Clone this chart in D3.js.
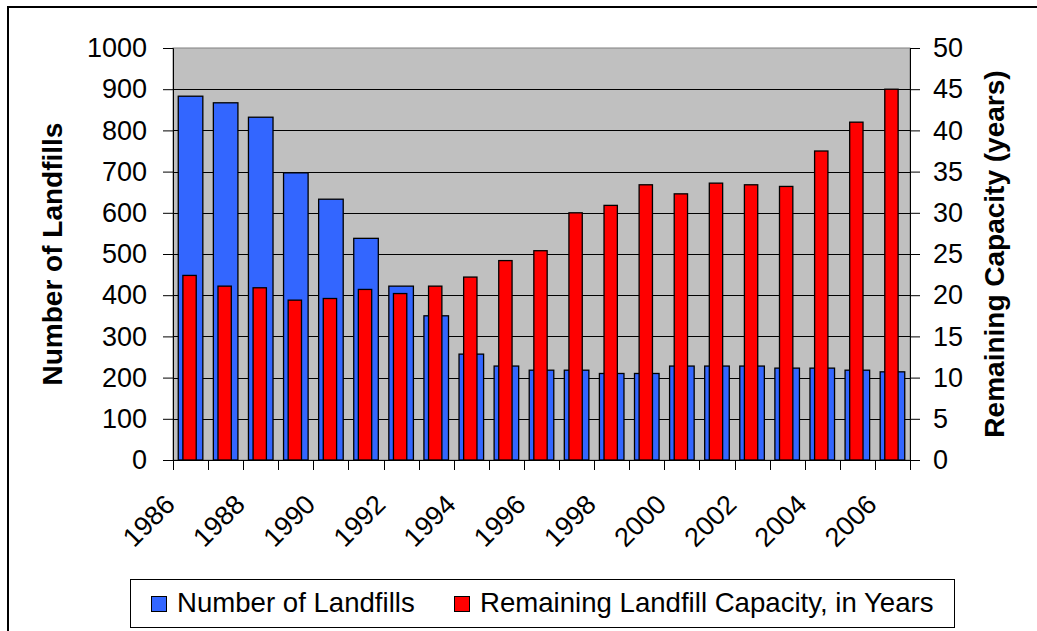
<!DOCTYPE html>
<html>
<head>
  <meta charset="utf-8">
  <script src="https://d3js.org/d3.v7.min.js"></script>
  <style>
    body { margin: 0; background: #fff; }
    svg text { font-family: "Liberation Sans", Arial, sans-serif; fill: #000; }
  </style>
</head>
<body>
<svg width="1037" height="631"></svg>
<script>
var years = ["1986","1987","1988","1989","1990","1991","1992","1993","1994","1995","1996",
             "1997","1998","1999","2000","2001","2002","2003","2004","2005","2006"];
var landfills = [883, 867, 832, 697, 633, 538, 422, 350, 257, 228, 218,
                 218, 210, 210, 228, 228, 228, 223, 223, 218, 214];
var capacity = [22.4, 21.1, 20.9, 19.4, 19.6, 20.7, 20.2, 21.1, 22.2, 24.2, 25.4,
                30.0, 30.9, 33.4, 32.3, 33.6, 33.4, 33.2, 37.5, 41.0, 45.0];
var leftTicks = [0, 100, 200, 300, 400, 500, 600, 700, 800, 900, 1000];
var rightTicks = [0, 5, 10, 15, 20, 25, 30, 35, 40, 45, 50];
var labelYears = ["1986","1988","1990","1992","1994","1996","1998","2000","2002","2004","2006"];

var svg = d3.select("svg"),
    plotLeft = 173, plotRight = 910, plotTop = 48, plotBottom = 460;

// outer frame
svg.append("rect")
    .attr("x", 8).attr("y", 7)
    .attr("width", 1040).attr("height", 640)
    .attr("fill", "#fff")
    .attr("stroke", "#000")
    .attr("stroke-width", 2);

var x = d3.scaleBand().domain(years).range([plotLeft, plotRight]).paddingInner(0).paddingOuter(0);
var y = d3.scaleLinear().domain([0, 1000]).range([plotBottom, plotTop]);
var y2 = d3.scaleLinear().domain([0, 50]).range([plotBottom, plotTop]);

// plot area
svg.append("rect")
    .attr("x", plotLeft).attr("y", plotTop)
    .attr("width", plotRight - plotLeft).attr("height", plotBottom - plotTop)
    .attr("fill", "#c0c0c0")
    .attr("stroke", "#808080");

svg.append("g")
  .selectAll("line")
  .data(leftTicks.slice(1, -1))
  .enter().append("line")
    .attr("x1", plotLeft).attr("x2", plotRight)
    .attr("y1", function(d) { return Math.round(y(d)) + 0.5; })
    .attr("y2", function(d) { return Math.round(y(d)) + 0.5; })
    .attr("stroke", "#000");

var bw = x.bandwidth();

svg.append("g")
  .selectAll("rect")
  .data(years)
  .enter().append("rect")
    .attr("x", function(d) { return x(d) + bw * 0.15; })
    .attr("y", function(d, i) { return y(landfills[i]); })
    .attr("width", bw * 0.7)
    .attr("height", function(d, i) { return y(0) - y(landfills[i]); })
    .attr("fill", "#3366ff")
    .attr("stroke", "#000")
    .attr("stroke-width", 1.3);

svg.append("g")
  .selectAll("rect")
  .data(years)
  .enter().append("rect")
    .attr("x", function(d) { return x(d) + bw * 0.31 - 1; })
    .attr("y", function(d, i) { return y2(capacity[i]); })
    .attr("width", bw * 0.38)
    .attr("height", function(d, i) { return y2(0) - y2(capacity[i]); })
    .attr("fill", "#ff0000")
    .attr("stroke", "#000")
    .attr("stroke-width", 1.3);

// left axis
var axL = svg.append("g").attr("transform", "translate(" + plotLeft + ",0)")
    .call(d3.axisLeft(y).tickValues(leftTicks).tickFormat(d3.format("d")).tickSize(10).tickPadding(16));
axL.selectAll("text").style("font-size", "27px");

// right axis
var axR = svg.append("g").attr("transform", "translate(" + plotRight + ",0)")
    .call(d3.axisRight(y2).tickValues(rightTicks).tickFormat(d3.format("d")).tickSize(10).tickPadding(13));
axR.selectAll("text").style("font-size", "27px");

// bottom axis: ticks on category boundaries
var bounds = years.map(function(d) { return x(d); }).concat([plotRight]);
svg.append("line")
    .attr("x1", plotLeft).attr("x2", plotRight)
    .attr("y1", plotBottom + 0.5).attr("y2", plotBottom + 0.5)
    .attr("stroke", "#000");
svg.append("g")
  .selectAll("line")
  .data(bounds)
  .enter().append("line")
    .attr("x1", function(d) { return Math.round(d) + 0.5; })
    .attr("x2", function(d) { return Math.round(d) + 0.5; })
    .attr("y1", plotBottom).attr("y2", plotBottom + 10)
    .attr("stroke", "#000");

svg.append("g")
  .selectAll("text")
  .data(labelYears)
  .enter().append("text")
    .attr("transform", function(d) {
      return "translate(" + (x(d) + bw / 2 - 14) + "," + (plotBottom + 46) + ")rotate(-45)";
    })
    .attr("text-anchor", "end")
    .style("font-size", "27px")
    .text(function(d) { return d; });

// axis titles
svg.append("text")
    .attr("transform", "translate(62," + (plotTop + plotBottom) / 2 + ")rotate(-90)")
    .attr("text-anchor", "middle")
    .style("font-size", "28px")
    .style("font-weight", "bold")
    .text("Number of Landfills");

svg.append("text")
    .attr("transform", "translate(1004," + (plotTop + plotBottom) / 2 + ")rotate(-90)")
    .attr("text-anchor", "middle")
    .style("font-size", "28px")
    .style("font-weight", "bold")
    .text("Remaining Capacity (years)");

// legend
var legend = svg.append("g");
legend.append("rect")
    .attr("x", 130.5).attr("y", 579.5)
    .attr("width", 824).attr("height", 48)
    .attr("fill", "#fff")
    .attr("stroke", "#000");

var items = [
  {name: "Number of Landfills", color: "#3366ff", x: 151},
  {name: "Remaining Landfill Capacity, in Years", color: "#ff0000", x: 454}
];
var li = legend.selectAll("g.item").data(items).enter().append("g")
    .attr("transform", function(d) { return "translate(" + d.x + ",0)"; });
li.append("rect")
    .attr("x", 0.5).attr("y", 596.5)
    .attr("width", 15).attr("height", 15)
    .attr("fill", function(d) { return d.color; })
    .attr("stroke", "#000");
li.append("text")
    .attr("x", 26).attr("y", 611.5)
    .style("font-size", "27.6px")
    .text(function(d) { return d.name; });
</script>
</body>
</html>
